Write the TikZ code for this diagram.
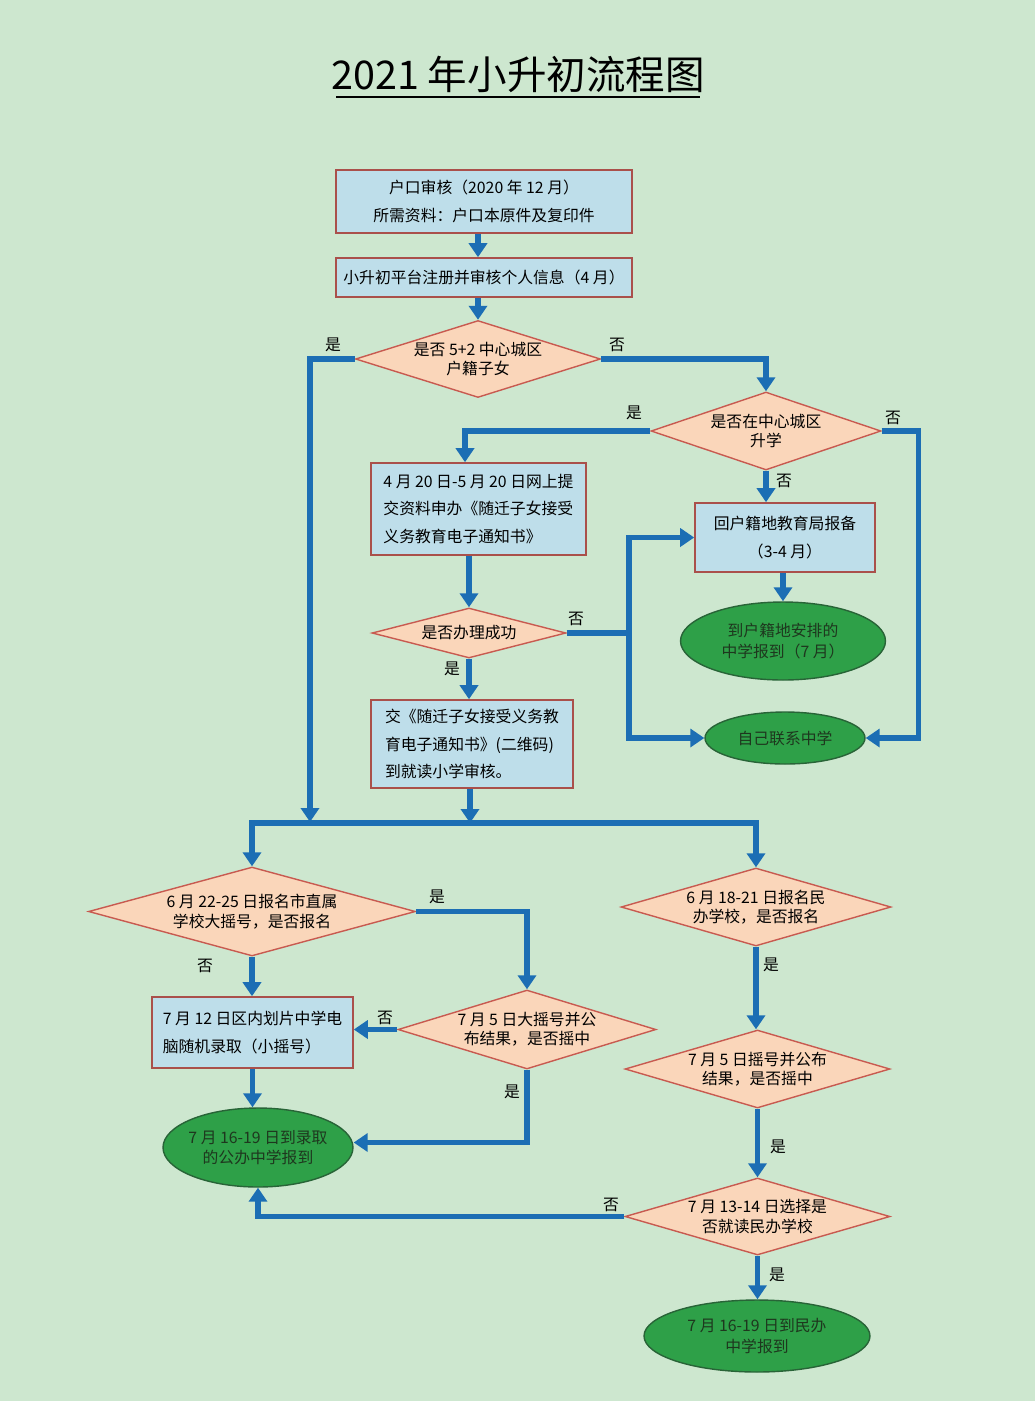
\documentclass[tikz,border=0pt]{standalone}
\usepackage{fontspec}
\setmainfont{Noto Sans CJK SC}
\usetikzlibrary{shapes.geometric,arrows.meta}
\definecolor{bgc}{RGB}{205,231,207}
\definecolor{boxfill}{RGB}{190,222,234}
\definecolor{boxline}{RGB}{170,80,75}
\definecolor{diafill}{RGB}{250,214,186}
\definecolor{dialine}{RGB}{200,90,80}
\definecolor{ellfill}{RGB}{46,160,72}
\definecolor{ellline}{RGB}{40,100,55}
\definecolor{elltext}{RGB}{30,55,30}
\definecolor{arrc}{RGB}{28,110,180}
\begin{document}
\begin{tikzpicture}[x=0.02cm,y=-0.02cm,
 box/.style={draw=boxline,fill=boxfill,line width=0.9pt,inner sep=2pt,font=\fontsize{9}{15.5}\selectfont,align=center},
 dia/.style={diamond,draw=dialine,fill=diafill,line width=0.8pt,inner sep=0pt},
 ell/.style={ellipse,draw=ellline,fill=ellfill,line width=0.8pt,inner sep=0pt},
 dlab/.style={align=center,font=\fontsize{9}{11}\selectfont,inner sep=0pt},
 elab/.style={align=center,font=\fontsize{9}{11.5}\selectfont,inner sep=0pt,text=elltext},
 ln/.style={draw=arrc,line width=2.9pt},
 arr/.style={ln,-{Triangle[length=0.28cm,width=0.36cm]}},
 yn/.style={font=\fontsize{9}{10}\selectfont,inner sep=0pt}]
\fill[bgc] (0,0) rectangle (1035,1401);
\useasboundingbox (0,0) rectangle (1035,1401);

% title
\node[font=\fontsize{22.5}{26}\selectfont] (title) at (518,74) {2021 年小升初流程图};
\draw[line width=1.6pt] (336,97) -- (700,97);

% rectangles
\node[box,minimum width=5.92cm,minimum height=1.26cm] (b1) at (484,201.5) {户口审核（2020 年 12 月）\\所需资料：户口本原件及复印件};
\node[box,minimum width=5.92cm,minimum height=0.78cm] (b2) at (484,277.5) {小升初平台注册并审核个人信息（4 月）};
\node[box,align=left,minimum width=4.3cm,minimum height=1.84cm] (b3) at (478.5,509) {4 月 20 日-5 月 20 日网上提\\交资料申办《随迁子女接受\\义务教育电子通知书》};
\node[box,minimum width=3.6cm,minimum height=1.38cm] (b4) at (785,537.5) {回户籍地教育局报备\\（3-4 月）};
\node[box,align=left,minimum width=4.04cm,minimum height=1.76cm] (b5) at (472,744) {交《随迁子女接受义务教\\育电子通知书》(二维码)\\到就读小学审核。};
\node[box,align=left,minimum width=4.02cm,minimum height=1.42cm] (b6) at (252.5,1032.5) {7 月 12 日区内划片中学电\\脑随机录取（小摇号）};

% diamonds
\node[dia,minimum width=4.9cm,minimum height=1.54cm,label={[dlab]center:{是否 5+2 中心城区\\户籍子女}}] (d1) at (478,359) {};
\node[dia,minimum width=4.6cm,minimum height=1.56cm,label={[dlab]center:{是否在中心城区\\升学}}] (d2) at (766,431) {};
\node[dia,minimum width=3.88cm,minimum height=1.0cm,label={[dlab]center:{是否办理成功}}] (d3) at (469,633) {};
\node[dia,minimum width=6.54cm,minimum height=1.78cm,label={[dlab]center:{6 月 22-25 日报名市直属\\学校大摇号，是否报名}}] (d4) at (252,911.5) {};
\node[dia,minimum width=5.4cm,minimum height=1.56cm,label={[dlab]center:{6 月 18-21 日报名民\\办学校，是否报名}}] (d5) at (756,907) {};
\node[dia,minimum width=5.16cm,minimum height=1.58cm,label={[dlab]center:{7 月 5 日大摇号并公\\布结果，是否摇中}}] (d6) at (527,1029.5) {};
\node[dia,minimum width=5.3cm,minimum height=1.56cm,label={[dlab]center:{7 月 5 日摇号并公布\\结果，是否摇中}}] (d7) at (757.5,1069) {};
\node[dia,minimum width=5.3cm,minimum height=1.54cm,label={[dlab]center:{7 月 13-14 日选择是\\否就读民办学校}}] (d8) at (757.5,1216.5) {};

% ellipses
\node[ell,minimum width=4.1cm,minimum height=1.56cm,label={[elab]center:{到户籍地安排的\\中学报到（7 月）}}] (e1) at (783,641) {};
\node[ell,minimum width=3.2cm,minimum height=1.04cm,label={[elab]center:{自己联系中学}}] (e2) at (785,738) {};
\node[ell,minimum width=3.8cm,minimum height=1.58cm,label={[elab]center:{7 月 16-19 日到录取\\的公办中学报到}}] (e3) at (258,1147.5) {};
\node[ell,minimum width=4.52cm,minimum height=1.44cm,label={[elab]center:{7 月 16-19 日到民办\\中学报到}}] (e4) at (757,1336) {};

% helper coordinates
\coordinate (jl) at (310,822);
\coordinate (j3) at (629,633);
\coordinate (bus) at (470,823);

% connectors
\draw[arr] (b1.south -| d1.north) -- (b2.north -| d1.north);
\draw[arr] (b2.south -| d1.north) -- (d1.north);
\draw[arr] (d1.west) -| (jl);
\draw[arr] (d1.east) -| (d2.north);
\draw[arr] (d2.west) -| ([xshift=-0.27cm]b3.north);
\draw[arr] (d2.east) -- ++(37,0) |- (e2.east);
\draw[arr] (d2.south) -- (d2.south |- b4.north);
\draw[arr] (d3.north |- b3.south) -- (d3.north);
\draw[ln] (d3.east) -- (j3);
\draw[arr] (j3) |- (b4.west);
\draw[arr] (j3) |- (e2.west);
\draw[arr] (d3.south) -- (d3.south |- b5.north);
\draw[arr] (b4.south -| e1.north) -- (e1.north);
\draw[arr] (b5.south -| bus) -- (bus);
\draw[ln,line cap=rect] (d4.north |- bus) -- (d5.north |- bus);
\draw[arr] (d4.north |- bus) -- (d4.north);
\draw[arr] (d5.north |- bus) -- (d5.north);
\draw[arr] (d4.east) -| (d6.north);
\draw[arr] (d4.south) -- (d4.south |- b6.north);
\draw[arr] (d6.west) -- (b6.east |- d6.west);
\draw[arr] (d6.south) |- ([yshift=0.1cm]e3.east);
\draw[arr] (b6.south) -- (b6.south |- e3.north);
\draw[arr] (d5.south) -- (d5.south |- d7.north);
\draw[arr] (d7.south) -- (d7.south |- d8.north);
\draw[arr] (d8.west) -| (e3.south);
\draw[arr] (d8.south) -- (d8.south |- e4.north);

% yes/no labels
\node[yn] (y1) at (333,345) {是};
\node[yn] (n1) at (617,345) {否};
\node[yn] (y2) at (634,413) {是};
\node[yn] (n2) at (893,418) {否};
\node[yn] (n3) at (784,481) {否};
\node[yn] (n4) at (576,619) {否};
\node[yn] (y3) at (452,669) {是};
\node[yn] (y4) at (437,897) {是};
\node[yn] (n5) at (205,966) {否};
\node[yn] (n6) at (385,1018) {否};
\node[yn] (y5) at (512,1092) {是};
\node[yn] (y6) at (771,965) {是};
\node[yn] (y7) at (778,1147) {是};
\node[yn] (n7) at (611,1205) {否};
\node[yn] (y8) at (777,1275) {是};
\end{tikzpicture}
\end{document}
